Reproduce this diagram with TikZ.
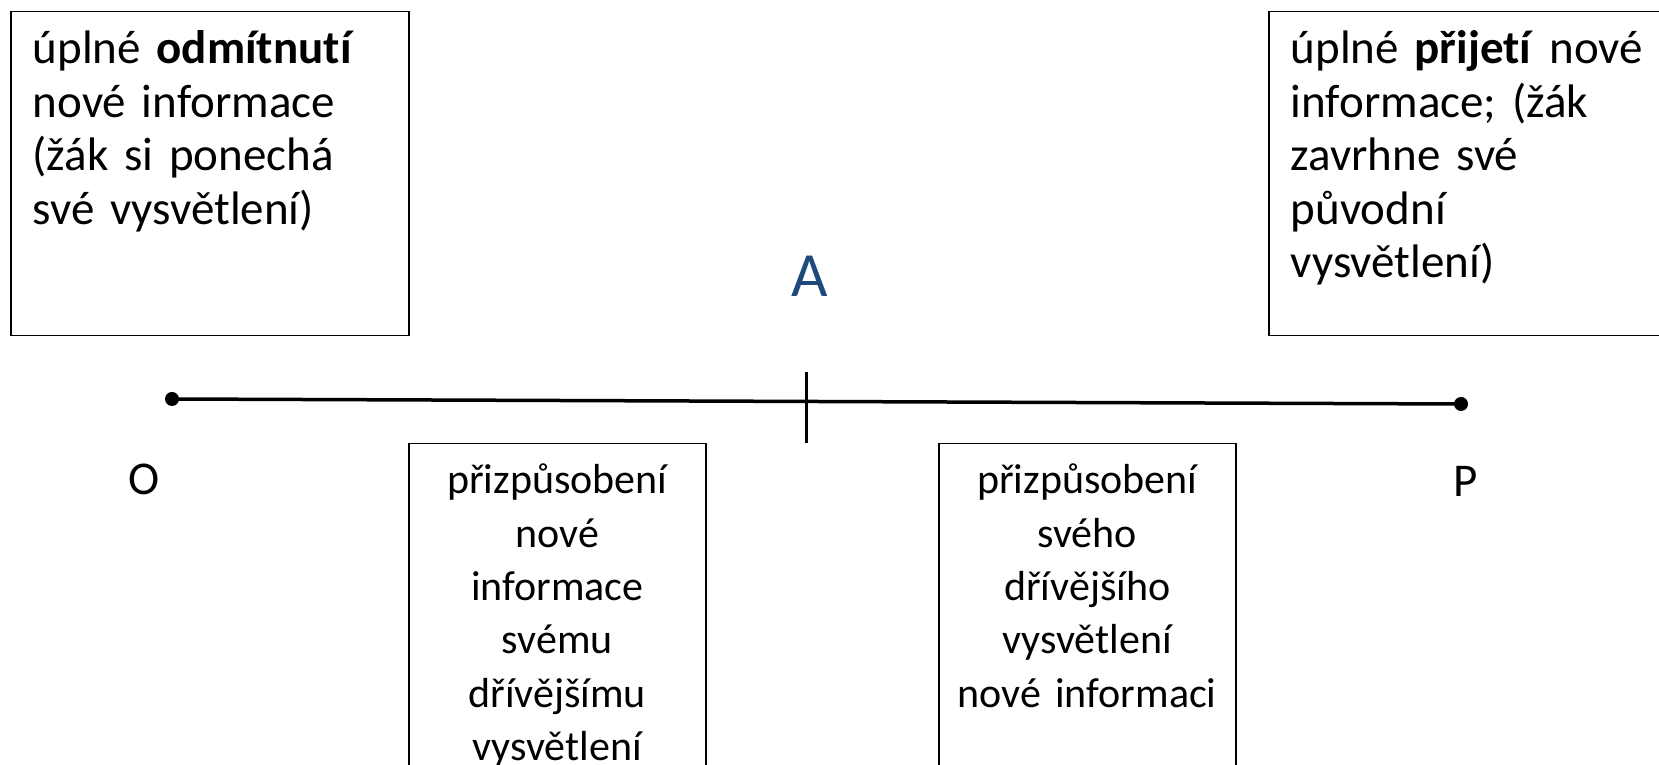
\documentclass[tikz,border=0pt]{standalone}
\usepackage{fontspec}
\setmainfont{Carlito}[Ligatures=NoCommon]
\usepackage{tikz}

\definecolor{letterblue}{RGB}{31,73,125}

\begin{document}
\begin{tikzpicture}[x=1pt, y=1pt,
	every node/.style={font=\fontsize{47}{53.5}\selectfont},
	topbox/.style={draw, line width=1.5pt, anchor=north west, inner xsep=22pt, inner ysep=0pt, align=left, text height=52pt, text depth=272pt},
	lowbox/.style={draw, line width=1.5pt, anchor=north west, inner xsep=0pt, inner ysep=0pt, align=center, text width=297pt, text height=50pt, text depth=307pt, font=\fontsize{42}{53.4}\selectfont},
	dot/.style={circle, fill=black, inner sep=0pt, minimum size=14pt}]
	\useasboundingbox (0,0) rectangle (1659,765);
	\clip (0,0) rectangle (1659,765);
	% the two extremes at the top
	\node[topbox, text width=354pt] (reject) at (10,754) {úplné \textbf{odmítnutí}\\nové informace\\(žák si ponechá\\své vysvětlení)};
	\node[topbox, text width=376pt] (accept) at (1268,754) {úplné \textbf{přijetí} nové\\informace; (žák\\zavrhne své\\původní\\vysvětlení)};
	% the scale between O and P
	\node[dot] (O) at (172,366) {};
	\node[dot] (P) at (1461,361) {};
	\draw[line width=3.5pt] (O.center) -- (P.center);
	\coordinate (tickTop) at (806,393);
	\coordinate (tickBot) at (806,322);
	\draw[line width=3pt] (tickTop) -- (tickBot);
	\node[anchor=base, font=\fontsize{63}{70}\selectfont, text=letterblue] (midA) at (810,468) {A};
	\node[anchor=base] (labO) at (144,270) {O};
	\node[anchor=base] (labP) at (1466,268) {P};
	% the two middle positions
	\node[lowbox] (adaptNew) at (408,322) {\hyphenpenalty=10000 přizpůsobení\\nové\\informace\\svému\\dřívějšímu\\vysvětlení};
	\node[lowbox] (adaptOld) at (938,322) {\hyphenpenalty=10000 přizpůsobení\\svého\\dřívějšího\\vysvětlení\\nové informaci};
\end{tikzpicture}
\end{document}
